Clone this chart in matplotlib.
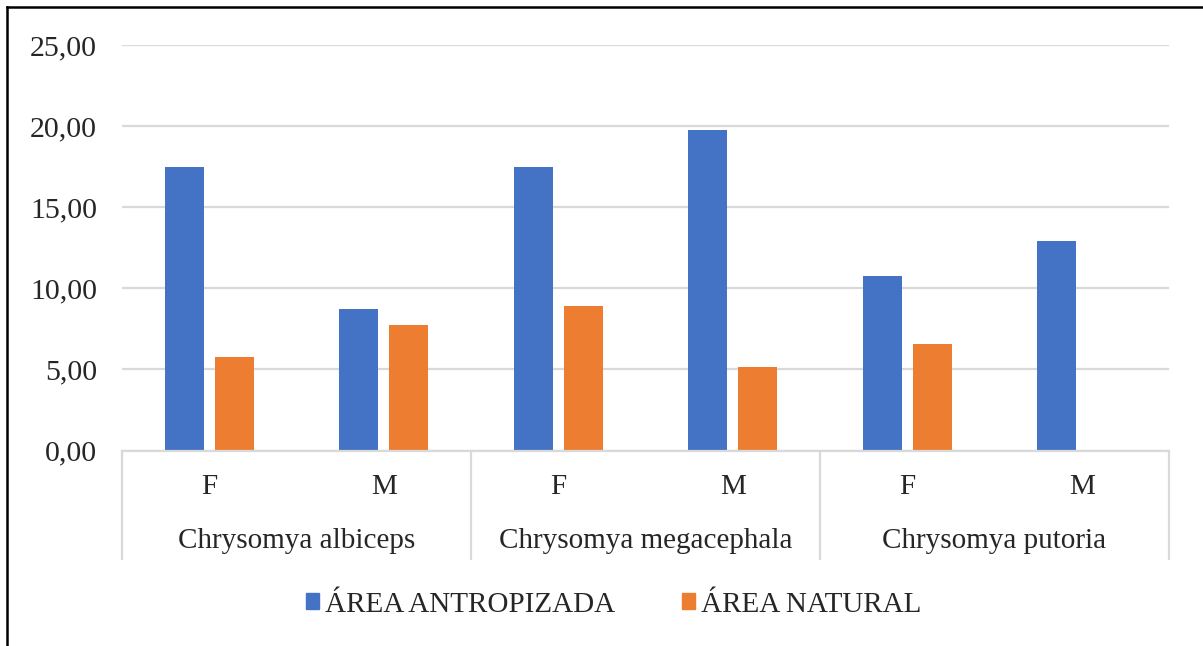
import numpy as np
import matplotlib.pyplot as plt
from matplotlib.lines import Line2D
from matplotlib.patches import Patch
import matplotlib.transforms as mtransforms

plt.rcParams['font.family'] = ['Liberation Serif', 'DejaVu Serif']

# data
species = ["Chrysomya albiceps", "Chrysomya megacephala", "Chrysomya putoria"]
sexes = ["F", "M"]
antropizada = [17.46, 8.74, 17.48, 19.78, 10.78, 12.93]
natural = [5.75, 7.72, 8.89, 5.15, 6.55, 0.0]
series_names = ["ÁREA ANTROPIZADA", "ÁREA NATURAL"]

blue = "#4472C4"
orange = "#ED7D31"
grid_col = "#D9D9D9"
txt_col = "#262626"

fig = plt.figure(figsize=(12.03, 6.46), dpi=100)
ax = fig.add_axes([0.1014, 0.3026, 0.8703, 0.6277])

x = np.arange(len(antropizada))
w = 0.224
off = 0.143
ax.bar(x - off, antropizada, width=w, color=blue, zorder=3)
ax.bar(x + off, natural, width=w, color=orange, zorder=3)

ax.set_xlim(-0.5, len(x) - 0.5)
ax.set_ylim(0, 25)
ax.set_yticks(np.arange(0, 26, 5))
ax.set_yticklabels([f"{v:.2f}".replace(".", ",") for v in np.arange(0, 26, 5)],
                   fontsize=21.5, color=txt_col)
ax.tick_params(axis="y", length=0, pad=18)
ax.grid(axis="y", color=grid_col, lw=1.6, zorder=0)
for s in ["top", "right", "left"]:
    ax.spines[s].set_visible(False)
ax.spines["bottom"].set_color(grid_col)
ax.spines["bottom"].set_linewidth(1.6)
ax.spines["bottom"].set_zorder(4)
ax.set_xticks([])

trans = mtransforms.blended_transform_factory(ax.transData, ax.transAxes)
# sex labels
for i in x:
    ax.text(i, -0.09, sexes[i % 2], transform=trans, ha="center", va="center",
            fontsize=21, color=txt_col)
# species labels and separators
for j, name in enumerate(species):
    ax.text(2 * j + 0.5, -0.223, name, transform=trans, ha="center", va="center",
            fontsize=21, color=txt_col)
for b in np.arange(-0.5, len(x), 2):
    ax.plot([b, b], [0, -0.267], transform=trans, color=grid_col, lw=1.6,
            clip_on=False)

handles = [Patch(color=blue), Patch(color=orange)]
fig.legend(handles, series_names, loc="center", bbox_to_anchor=(0.51, 0.064),
           ncol=2, frameon=False, fontsize=21, handlelength=0.45, handleheight=0.45,
           handletextpad=0.2, columnspacing=2.3, labelcolor=txt_col)

# outer frame (left and top edges)
fig.add_artist(Line2D([0.0062, 0.0062], [0, 0.9884], color="black", lw=1.8))
fig.add_artist(Line2D([0.0062, 1.0], [0.9884, 0.9884], color="black", lw=1.8))

fig.savefig("out.png", dpi=100)
